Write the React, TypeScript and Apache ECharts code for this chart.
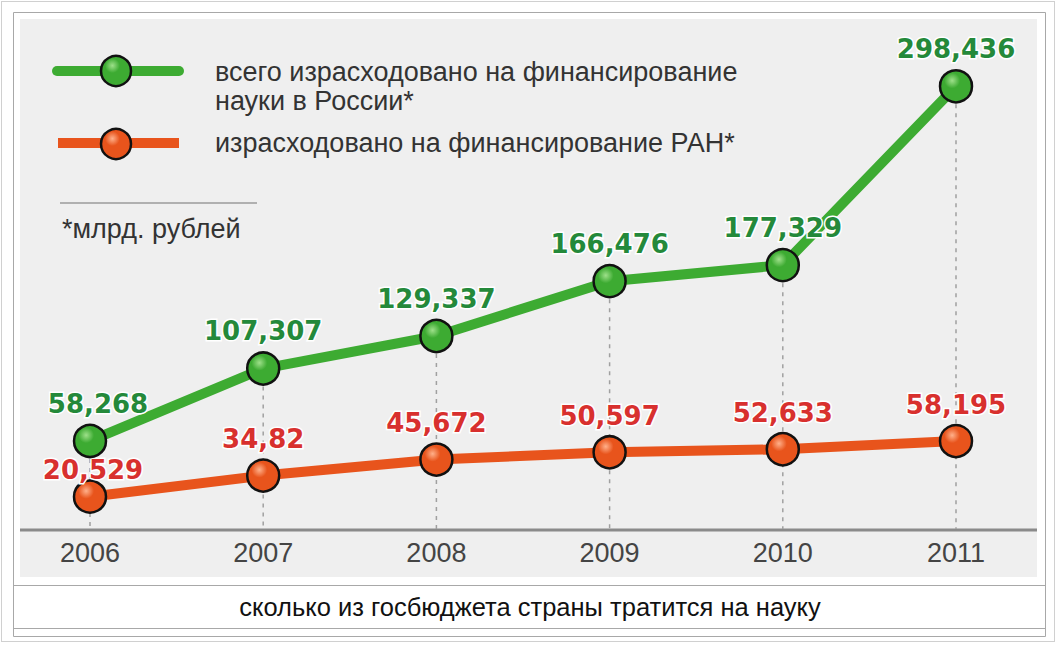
import React, { useEffect, useRef } from "react";
import * as echarts from "echarts";

const years = ["2006", "2007", "2008", "2009", "2010", "2011"];
const totalScience = [58.268, 107.307, 129.337, 166.476, 177.329, 298.436];
const ranFunding = [20.529, 34.82, 45.672, 50.597, 52.633, 58.195];

const legendTotal = ["всего израсходовано на финансирование", "науки в России*"];
const legendRan = "израсходовано на финансирование РАН*";
const unitNote = "*млрд. рублей";
const caption = "сколько из госбюджета страны тратится на науку";

const GREEN = "#3dab32";
const GREEN_LABEL = "#24893a";
const ORANGE = "#e8541c";
const RED_LABEL = "#d8302e";

const ball = (base: string, light: string) =>
  new echarts.graphic.RadialGradient(0.38, 0.32, 0.7, [
    { offset: 0, color: light },
    { offset: 0.35, color: base },
    { offset: 1, color: base },
  ]);

const fmt = (v: number) => String(v).replace(".", ",");

export default function App() {
  const ref = useRef<HTMLDivElement>(null);
  useEffect(() => {
    if (!ref.current) return;
    const chart = echarts.init(ref.current, null, { renderer: "svg" });
    const labelFont = {
      fontFamily: "DejaVu Sans",
      fontWeight: "bold" as const,
      fontSize: 26,
      textBorderColor: "#ffffff",
      textBorderWidth: 3,
    };
    const legendText = (text: string, x: number, y: number) => ({
      type: "text",
      x,
      y,
      style: {
        text,
        fontSize: 27,
        fontFamily: "Liberation Sans",
        fill: "#333333",
        verticalAlign: "middle",
      },
    });
    chart.setOption({
      animation: false,
      backgroundColor: "#ffffff",
      grid: { left: 90, right: 102, top: 84, bottom: 119 },
      xAxis: {
        type: "category",
        data: years,
        boundaryGap: false,
        axisLine: { show: false },
        axisTick: { show: false },
        splitLine: { show: false },
        axisLabel: {
          margin: 12,
          fontSize: 27,
          color: "#444444",
          fontFamily: "Liberation Sans",
        },
      },
      yAxis: {
        type: "value",
        min: 0,
        max: 300,
        show: false,
        splitLine: { show: false },
      },
      graphic: [
        {
          type: "rect",
          shape: { x: 1.5, y: 1.5, width: 1053, height: 640 },
          style: { fill: "none", stroke: "#a0a0a0", lineWidth: 1, lineDash: [1, 1] },
          z: -10,
        },
        {
          type: "rect",
          shape: { x: 13.5, y: 12.5, width: 1032, height: 624 },
          style: { fill: "#ffffff", stroke: "#a8a8a8", lineWidth: 1 },
          z: -9,
        },
        {
          type: "rect",
          shape: { x: 20, y: 19, width: 1017, height: 558 },
          style: { fill: "#efefef" },
          z: -8,
        },
        {
          type: "line",
          shape: { x1: 13, y1: 585.5, x2: 1045, y2: 585.5 },
          style: { stroke: "#a8a8a8", lineWidth: 1 },
          z: -7,
        },
        {
          type: "line",
          shape: { x1: 13, y1: 628.5, x2: 1045, y2: 628.5 },
          style: { stroke: "#a8a8a8", lineWidth: 1 },
          z: -7,
        },
        {
          type: "line",
          shape: { x1: 20, y1: 530, x2: 1037, y2: 530 },
          style: { stroke: "#8a8a8a", lineWidth: 3 },
          z: -6,
        },
        // legend
        {
          type: "line",
          shape: { x1: 57, y1: 71, x2: 179, y2: 71 },
          style: { stroke: GREEN, lineWidth: 10, lineCap: "round" },
        },
        {
          type: "circle",
          shape: { cx: 116, cy: 71, r: 15 },
          style: { fill: ball(GREEN, "#9ee08a"), stroke: "#111111", lineWidth: 2.5 },
        },
        {
          type: "line",
          shape: { x1: 58, y1: 143, x2: 179, y2: 143 },
          style: { stroke: ORANGE, lineWidth: 10 },
        },
        {
          type: "circle",
          shape: { cx: 116, cy: 144, r: 15 },
          style: { fill: ball(ORANGE, "#ffb08a"), stroke: "#111111", lineWidth: 2.5 },
        },
        legendText(legendTotal[0], 215, 72),
        legendText(legendTotal[1], 215, 101),
        legendText(legendRan, 215, 143),
        {
          type: "line",
          shape: { x1: 60, y1: 203, x2: 257, y2: 203 },
          style: { stroke: "#b0b0b0", lineWidth: 2 },
        },
        legendText(unitNote, 62, 229),
        {
          type: "text",
          x: 530,
          y: 607,
          style: {
            text: caption,
            fontSize: 25.5,
            fontFamily: "Liberation Sans",
            fill: "#111111",
            align: "center",
            verticalAlign: "middle",
          },
        },
      ],
      series: [
        {
          type: "custom",
          z: 1,
          silent: true,
          data: totalScience.map((v, i) => [i, v]),
          renderItem: (params: any, api: any) => {
            const top = api.coord([api.value(0), api.value(1)]);
            const bottom = api.coord([api.value(0), 0]);
            return {
              type: "line",
              shape: { x1: top[0], y1: top[1], x2: bottom[0], y2: bottom[1] + 2 },
              style: { stroke: "#a0a0a0", lineWidth: 1.5, lineDash: [4, 5] },
            };
          },
        },
        {
          type: "line",
          z: 3,
          data: totalScience.map((v, i) =>
            i === 0 ? { value: v, label: { offset: [8, 0] } } : v
          ),
          symbol: "circle",
          symbolSize: 32,
          lineStyle: { color: GREEN, width: 10 },
          itemStyle: {
            color: ball(GREEN, "#9ee08a"),
            borderColor: "#111111",
            borderWidth: 2.5,
          },
          label: {
            show: true,
            position: "top",
            distance: 7,
            color: GREEN_LABEL,
            formatter: (p: any) => fmt(p.value),
            ...labelFont,
          },
        },
        {
          type: "line",
          z: 2,
          data: ranFunding.map((v, i) =>
            i === 0 ? { value: v, label: { distance: -4, offset: [3, 0] } } : v
          ),
          symbol: "circle",
          symbolSize: 32,
          lineStyle: { color: ORANGE, width: 10 },
          itemStyle: {
            color: ball(ORANGE, "#ffb08a"),
            borderColor: "#111111",
            borderWidth: 2.5,
          },
          label: {
            show: true,
            position: "top",
            distance: 6,
            color: RED_LABEL,
            formatter: (p: any) => fmt(p.value),
            ...labelFont,
          },
        },
      ],
    });
    return () => chart.dispose();
  }, []);
  return (
    <div
      ref={ref}
      style={{ position: "absolute", left: 0, top: 0, width: 1058, height: 646 }}
    />
  );
}
